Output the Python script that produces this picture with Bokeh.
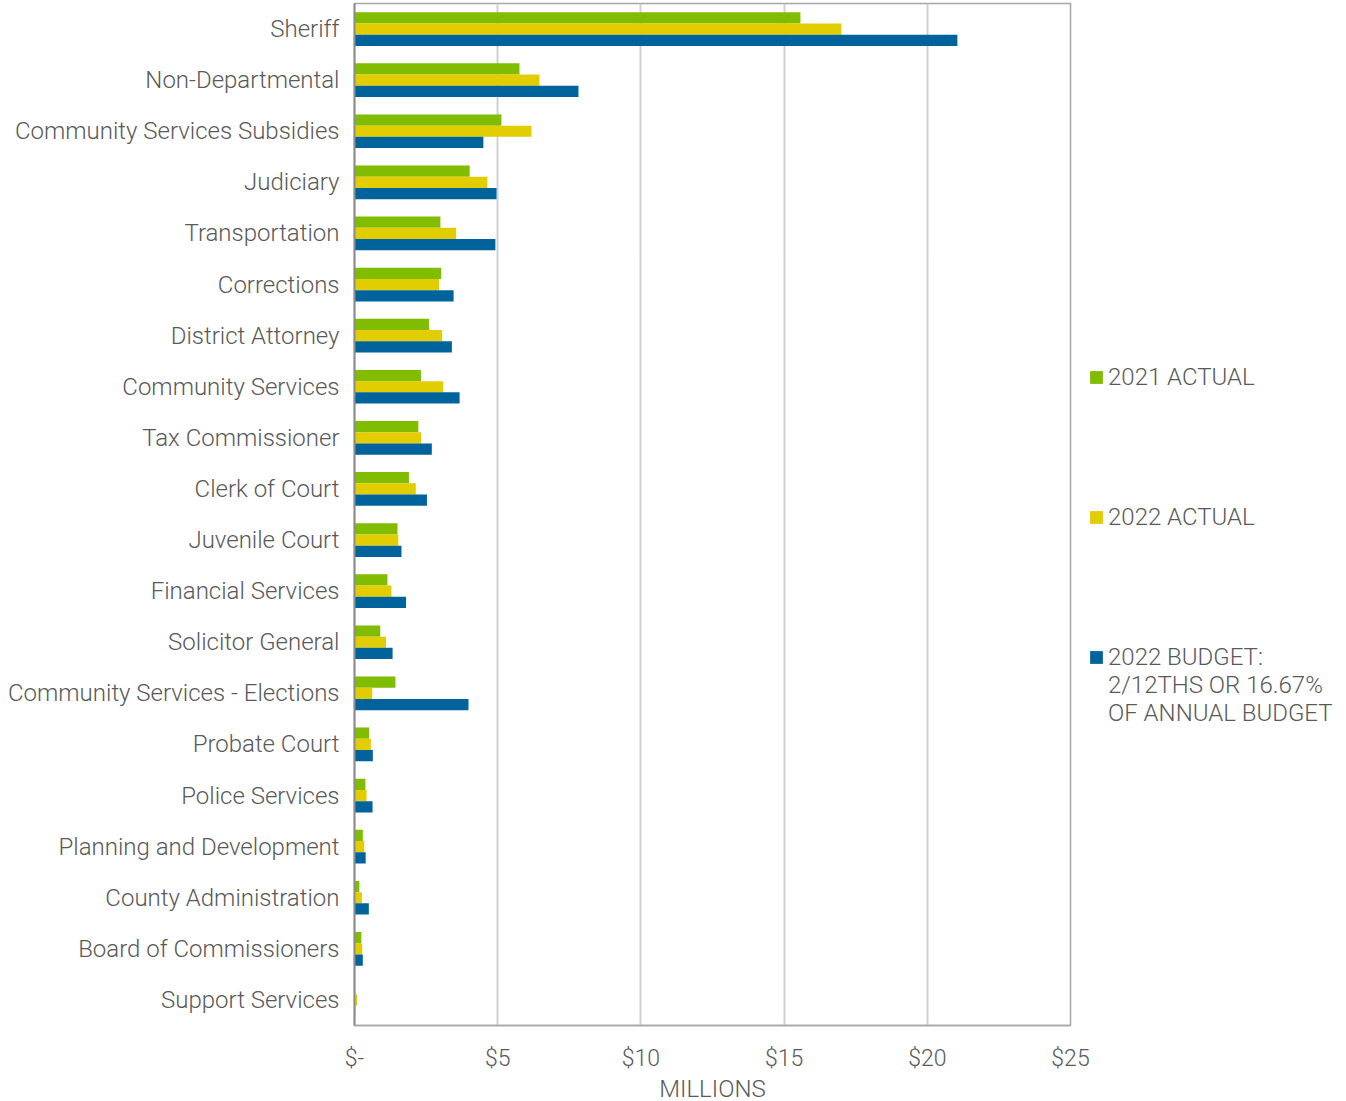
from bokeh.plotting import figure
from bokeh.models import ColumnDataSource, FactorRange, Range1d, FixedTicker, Legend, LegendItem
from bokeh.transform import dodge
from bokeh.embed import file_html
from bokeh.resources import INLINE

categories = ["Sheriff", "Non-Departmental", "Community Services Subsidies", "Judiciary",
              "Transportation", "Corrections", "District Attorney", "Community Services",
              "Tax Commissioner", "Clerk of Court", "Juvenile Court", "Financial Services",
              "Solicitor General", "Community Services - Elections", "Probate Court",
              "Police Services", "Planning and Development", "County Administration",
              "Board of Commissioners", "Support Services"]
actual_2021 = [15.57, 5.76, 5.13, 4.02, 3.00, 3.03, 2.60, 2.32, 2.23, 1.90,
               1.50, 1.15, 0.90, 1.43, 0.51, 0.38, 0.29, 0.17, 0.24, 0.01]
actual_2022 = [17.00, 6.46, 6.18, 4.64, 3.55, 2.95, 3.06, 3.10, 2.33, 2.14,
               1.53, 1.29, 1.10, 0.62, 0.57, 0.42, 0.34, 0.26, 0.27, 0.09]
budget_2022 = [21.05, 7.82, 4.50, 4.96, 4.92, 3.46, 3.40, 3.67, 2.70, 2.53,
               1.64, 1.80, 1.33, 3.98, 0.64, 0.63, 0.39, 0.50, 0.29, 0.02]
series_labels = ["2021 ACTUAL", "2022 ACTUAL", "2022 BUDGET:\n2/12THS OR 16.67%\nOF ANNUAL BUDGET"]
series_colors = ["#80bc00", "#e1cd00", "#00639b"]
x_ticks = [0, 5, 10, 15, 20, 25]
x_tick_labels = ["$-", "$5", "$10", "$15", "$20", "$25"]
x_axis_title = "MILLIONS"

source = ColumnDataSource(dict(cat=categories, a21=actual_2021, a22=actual_2022, b22=budget_2022))

FONT = "'Roboto Light', Roboto"
TEXT = "#595959"
FS = "24px"

p = figure(frame_width=716, frame_height=1022, output_backend="svg", toolbar_location=None,
           y_range=FactorRange(*reversed(categories), range_padding=0),
           x_range=Range1d(0, 25),
           min_border_left=354, min_border_right=10, min_border_top=3, min_border_bottom=2)

bh = 0.22
r1 = p.hbar(y=dodge("cat", bh, range=p.y_range), right="a21", left=0, height=bh, source=source,
            fill_color=series_colors[0], line_color=None)
r2 = p.hbar(y=dodge("cat", 0, range=p.y_range), right="a22", left=0, height=bh, source=source,
            fill_color=series_colors[1], line_color=None)
r3 = p.hbar(y=dodge("cat", -bh, range=p.y_range), right="b22", left=0, height=bh, source=source,
            fill_color=series_colors[2], line_color=None)
# invisible renderer used only to pad the legend rows
blank = p.hbar(y=[], right=[], left=0, height=bh, fill_color=None, line_color=None)

p.outline_line_color = "#a6a6a6"
p.outline_line_width = 1.5
p.background_fill_color = "white"
p.border_fill_color = "white"

p.ygrid.grid_line_color = None
p.xgrid.grid_line_color = "#d0d0d0"
p.xgrid.grid_line_width = 2
p.xaxis.ticker = FixedTicker(ticks=x_ticks)
p.xaxis.major_label_overrides = {t: l for t, l in zip(x_ticks, x_tick_labels)}
p.xaxis.major_tick_line_color = None
p.xaxis.minor_tick_line_color = None
p.xaxis.axis_line_color = "#a6a6a6"
p.xaxis.axis_line_width = 1.5
p.xaxis.major_label_text_font = FONT
p.xaxis.major_label_text_font_size = "23px"
p.xaxis.major_label_text_color = TEXT
p.xaxis.major_label_standoff = 13
p.xaxis.axis_label = x_axis_title
p.xaxis.axis_label_text_font = FONT
p.xaxis.axis_label_text_font_size = FS
p.xaxis.axis_label_text_font_style = "normal"
p.xaxis.axis_label_text_color = TEXT
p.xaxis.axis_label_standoff = 0

p.yaxis.major_tick_line_color = None
p.yaxis.minor_tick_line_color = None
p.yaxis.axis_line_color = "#8c8c8c"
p.yaxis.axis_line_width = 2
p.yaxis.major_label_text_font = FONT
p.yaxis.major_label_text_font_size = FS
p.yaxis.major_label_text_color = TEXT
p.yaxis.major_label_standoff = 9

budget_lines = series_labels[2].split("\n")
items = [LegendItem(label=series_labels[0], renderers=[r1])]
items += [LegendItem(label=" ", renderers=[blank]) for _ in range(4)]
items += [LegendItem(label=series_labels[1], renderers=[r2])]
items += [LegendItem(label=" ", renderers=[blank]) for _ in range(4)]
items += [LegendItem(label=budget_lines[0], renderers=[r3])]
items += [LegendItem(label=t, renderers=[blank]) for t in budget_lines[1:]]

legend = Legend(items=items, location=(18, 298), orientation="vertical")
legend.label_text_font = FONT
legend.label_text_font_size = FS
legend.label_text_color = TEXT
legend.glyph_width = 16
legend.glyph_height = 16
legend.label_height = 28
legend.label_standoff = 4
legend.spacing = 0
legend.padding = 8
legend.margin = 0
legend.border_line_color = None
legend.background_fill_alpha = 0
p.add_layout(legend, "right")

open("out.html", "w").write(file_html(p, INLINE))
